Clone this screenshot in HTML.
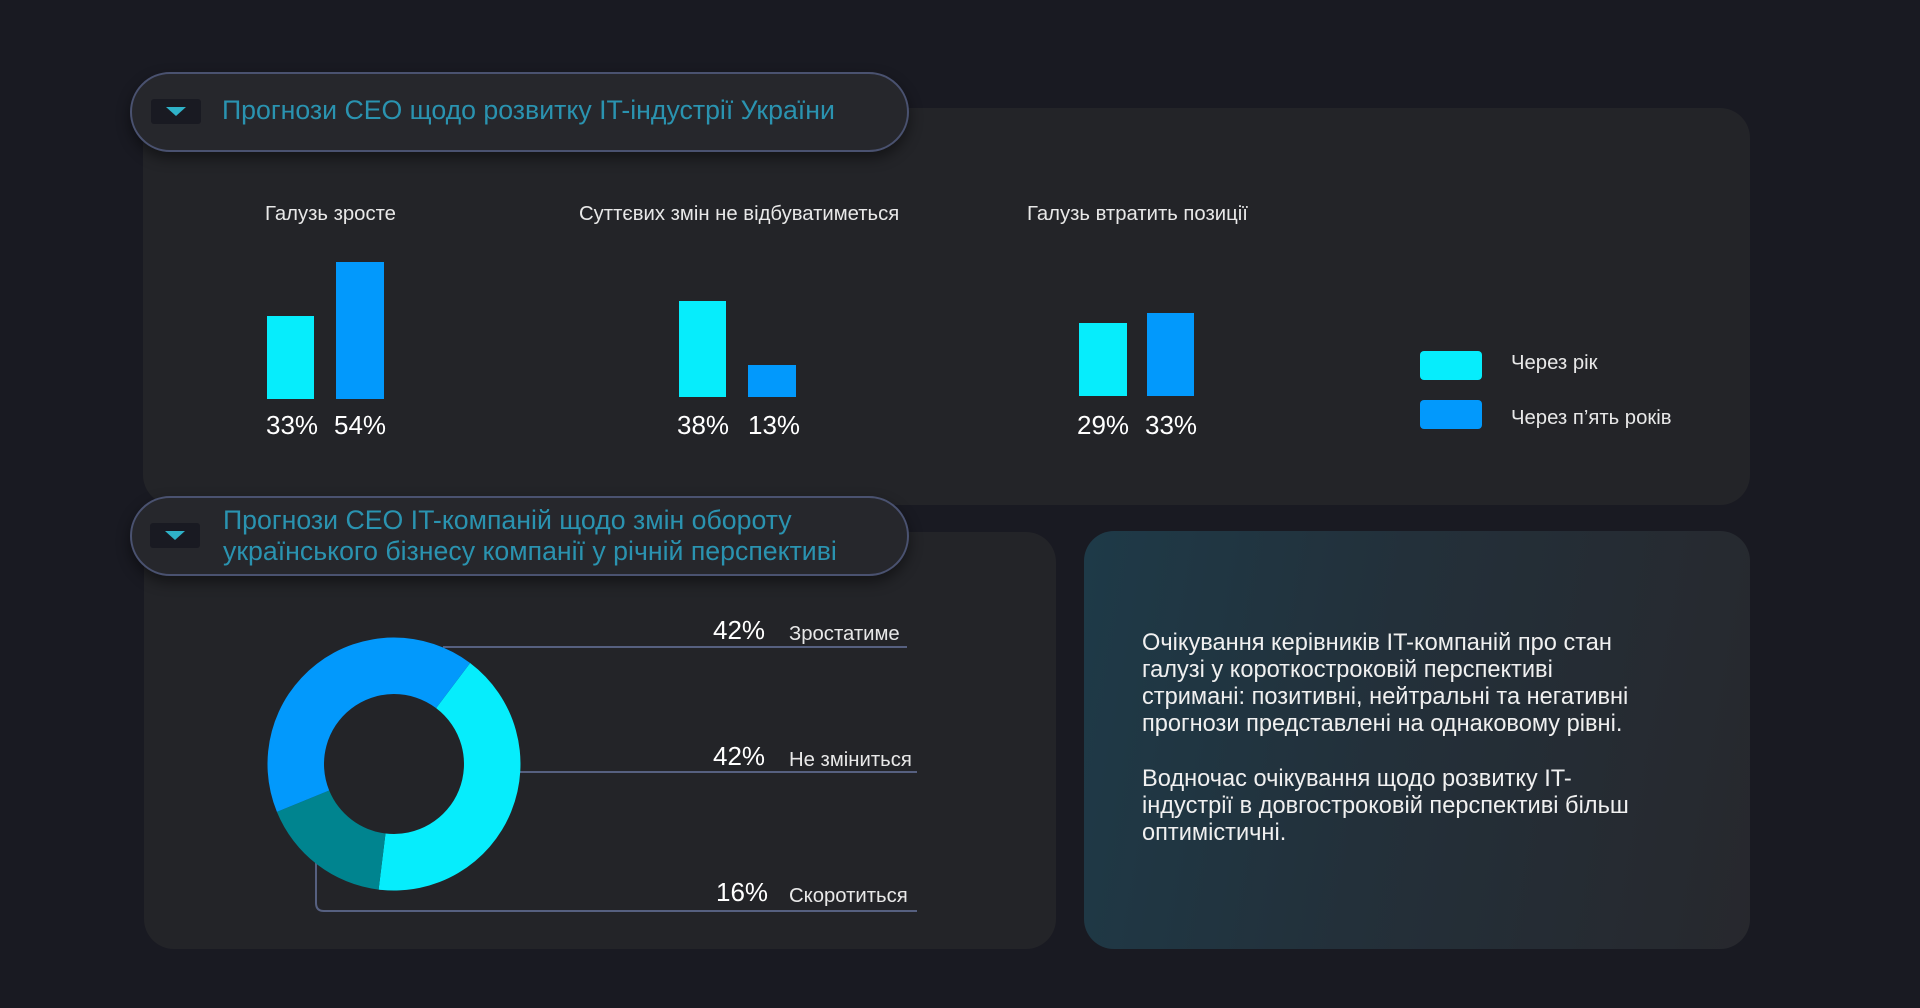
<!DOCTYPE html>
<html><head><meta charset="utf-8"><style>
html,body{margin:0;padding:0}
body{width:1920px;height:1008px;background:#191a22;position:relative;overflow:hidden;font-family:"Liberation Sans","DejaVu Sans",sans-serif;color:#fff}
.card{position:absolute;background:#232428;border-radius:30px}
.pill{position:absolute;border:2px solid #4a5270;border-radius:42px;background:#26272c;box-shadow:0 6px 14px rgba(0,0,0,.45);box-sizing:border-box}
.ic{position:absolute;width:50px;height:25px;background:#191a22;border-radius:3px}
.ic:after{content:"";position:absolute;left:15px;top:8px;border-left:10px solid transparent;border-right:10px solid transparent;border-top:9px solid #2fb2c8}
.t{position:absolute;white-space:nowrap}
.ttl{color:#2a93b0;font-size:26.7px;line-height:31px}
.lbl{font-size:20.3px;color:#e8e8e8}
.pct{font-size:26px;color:#fff}
.b{position:absolute}
.c{background:#06edfc}.bl{background:#0299fc}
</style></head><body>
<div class="card" style="left:143px;top:108px;width:1607px;height:397px"></div>
<div class="card" style="left:144px;top:532px;width:912px;height:417px"></div>
<div class="card" style="left:1084px;top:531px;width:666px;height:418px;background:linear-gradient(100deg,#1e3a48 0%,#23303a 45%,#27282d 100%)"></div>

<div class="pill" style="left:130px;top:72px;width:779px;height:80px"></div>
<div class="ic" style="left:151px;top:99px"></div>
<div class="t ttl" style="left:222px;top:95px">Прогнози CEO щодо розвитку IT-індустрії України</div>

<div class="t lbl" style="left:265px;top:203px">Галузь зросте</div>
<div class="t lbl" style="left:579px;top:203px">Суттєвих змін не відбуватиметься</div>
<div class="t lbl" style="left:1027px;top:203px">Галузь втратить позиції</div>

<div class="b c" style="left:267px;top:316px;width:47px;height:83px"></div>
<div class="b bl" style="left:336px;top:262px;width:48px;height:137px"></div>
<div class="b c" style="left:679px;top:301px;width:47px;height:96px"></div>
<div class="b bl" style="left:748px;top:365px;width:48px;height:32px"></div>
<div class="b c" style="left:1079px;top:323px;width:48px;height:73px"></div>
<div class="b bl" style="left:1147px;top:313px;width:47px;height:83px"></div>

<div class="t pct" style="left:266px;top:410px">33%</div>
<div class="t pct" style="left:334px;top:410px">54%</div>
<div class="t pct" style="left:677px;top:410px">38%</div>
<div class="t pct" style="left:748px;top:410px">13%</div>
<div class="t pct" style="left:1077px;top:410px">29%</div>
<div class="t pct" style="left:1145px;top:410px">33%</div>

<div class="b c" style="left:1420px;top:351px;width:62px;height:29px;border-radius:4px"></div>
<div class="b bl" style="left:1420px;top:400px;width:62px;height:29px;border-radius:4px"></div>
<div class="t lbl" style="left:1511px;top:352px">Через рік</div>
<div class="t lbl" style="left:1511px;top:407px">Через п’ять років</div>

<div class="pill" style="left:130px;top:496px;width:779px;height:80px"></div>
<div class="ic" style="left:150px;top:523px"></div>
<div class="t ttl" style="left:223px;top:505px">Прогнози CEO IT-компаній щодо змін обороту<br>українського бізнесу компанії у річній перспективі</div>

<svg width="1920" height="1008" style="position:absolute;left:0;top:0">
<g fill="none" stroke="#566080" stroke-width="2">
<path d="M443 647H907"/>
<path d="M519 772H917"/>
<path d="M316 860V903Q316 911 324 911H917"/>
</g>
<g transform="translate(394 764)">
<path d="M76.1 -101.0 A126.5 126.5 0 0 1 -15.4 125.6 L -8.5 69.5 A70 70 0 0 0 42.1 -55.9Z" fill="#06edfc"/>
<path d="M-15.4 125.6 A126.5 126.5 0 0 1 -117.1 47.9 L -64.8 26.5 A70 70 0 0 0 -8.5 69.5Z" fill="#00848f"/>
<path d="M-117.1 47.9 A126.5 126.5 0 0 1 76.1 -101.0 L 42.1 -55.9 A70 70 0 0 0 -64.8 26.5Z" fill="#0299fc"/>
</g>
</svg>
<div class="t pct" style="left:713px;top:615px">42%</div>
<div class="t lbl" style="left:789px;top:623px">Зростатиме</div>
<div class="t pct" style="left:713px;top:741px">42%</div>
<div class="t lbl" style="left:789px;top:749px">Не зміниться</div>
<div class="t pct" style="left:716px;top:877px">16%</div>
<div class="t lbl" style="left:789px;top:885px">Скоротиться</div>

<div class="t" style="left:1142px;top:630px;font-size:23.6px;line-height:27px;color:#f0f0f0">Очікування керівників IT-компаній про стан<br>галузі у короткостроковій перспективі<br>стримані: позитивні, нейтральні та негативні<br>прогнози представлені на однаковому рівні.</div>
<div class="t" style="left:1142px;top:766px;font-size:23.6px;line-height:27px;color:#f0f0f0">Водночас очікування щодо розвитку IT-<br>індустрії в довгостроковій перспективі більш<br>оптимістичні.</div>
</body></html>
